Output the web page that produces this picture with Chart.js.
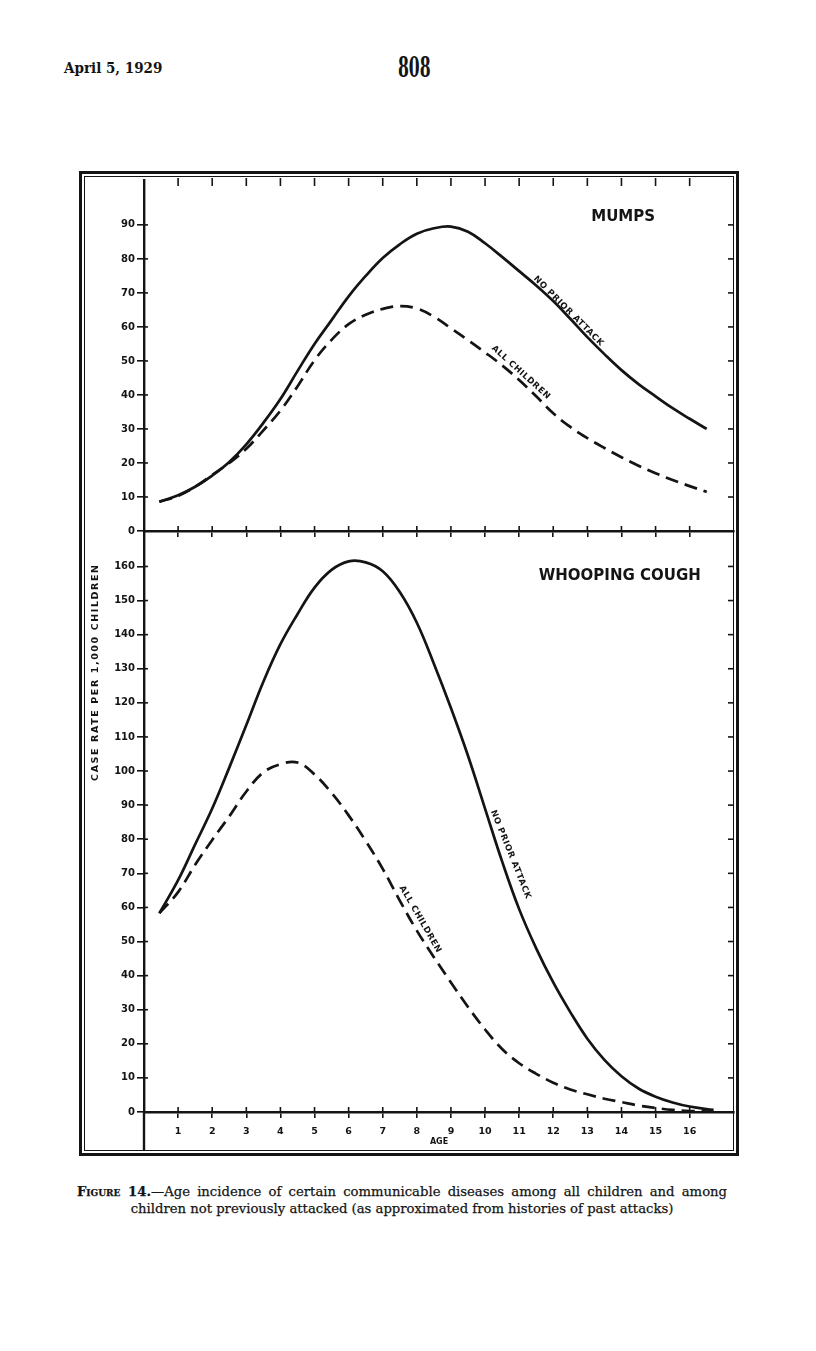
<!DOCTYPE html>
<html>
<head>
<meta charset="utf-8">
<title>Figure 14 — Age incidence</title>
<script src="https://cdn.jsdelivr.net/npm/chart.js@4.4.1/dist/chart.umd.min.js"></script>
<style>
  html, body { margin: 0; background: #fff; }
  #page { position: relative; width: 816px; height: 1351px; overflow: hidden; color: #141414; }
  .hdr { position: absolute; font-family: "DejaVu Serif Condensed", "DejaVu Serif", serif; font-weight: bold; white-space: nowrap; }
  #date { left: 64px; top: 59px; font-size: 15px; }
  #pgno { left: 398px; top: 51px; font-size: 28px; transform: scaleX(0.62); transform-origin: left top; }
  #frame { position: absolute; left: 79px; top: 171px; width: 654px; height: 979px; border: 3px solid #141414; }
  #frame::after { content: ""; position: absolute; left: 2px; top: 2px; right: 2px; bottom: 2px; border: 1.5px solid #141414; }
  canvas { position: absolute; z-index: 2; }
  #mumps { left: 80px; top: 172px; }
  #whoop { left: 80px; top: 520px; }
  #caption { position: absolute; left: 77px; top: 1183px; width: 650px; font-family: "DejaVu Serif", serif;
    font-size: 13.2px; line-height: 17px; -webkit-text-stroke: 0.25px #141414; }
  #caption .l1 { text-align: justify; text-align-last: justify; }
  #caption .l2 { text-align: center; }
  #caption b { font-variant: small-caps; }
</style>
</head>
<body>
<div id="page">
  <div id="date" class="hdr">April 5, 1929</div>
  <div id="pgno" class="hdr">808</div>
  <div id="frame"></div>
  <canvas id="mumps" width="658" height="372"></canvas>
  <canvas id="whoop" width="658" height="635"></canvas>
  <div id="caption">
    <div class="l1"><b>Figure 14.</b>—Age incidence of certain communicable diseases among all children and among</div>
    <div class="l2">children not previously attacked (as approximated from histories of past attacks)</div>
  </div>
</div>
<script>
// ── Data (rate per 1,000 children) ──
const ageTicks = [1, 2, 3, 4, 5, 6, 7, 8, 9, 10, 11, 12, 13, 14, 15, 16];
const mumpsTicks = [0, 10, 20, 30, 40, 50, 60, 70, 80, 90];
const whoopTicks = [0, 10, 20, 30, 40, 50, 60, 70, 80, 90, 100, 110, 120, 130, 140, 150, 160];

const mumpsAges = [0.45, 1, 1.5, 2, 2.5, 3, 3.5, 4, 4.5, 5, 5.5, 6, 6.5, 7, 7.5, 8, 8.5,
  9, 9.5, 10, 10.5, 11, 11.5, 12, 12.5, 13, 13.5, 14, 14.5, 15, 15.5, 16, 16.5];
const mumpsNoPrior = [8.6, 10.5, 13, 16.3, 20.3, 25.5, 31.8, 38.8, 47, 55, 62, 69, 75,
  80.3, 84.3, 87.4, 89, 89.5, 88, 84.6, 80.6, 76.4, 72.2, 67.6, 62.4, 57, 52, 47.3, 43.2,
  39.6, 36.1, 33, 30];
const mumpsAll = [8.6, 10.3, 13, 16.5, 20, 24.2, 29.6, 35.4, 42.5, 50.2, 56.2, 60.8, 63.6,
  65.3, 66.1, 65.4, 63, 59.6, 56.1, 52.5, 48.7, 44.4, 39.6, 34.6, 30.6, 27.3, 24.4, 21.7, 19.2,
  17, 15, 13.2, 11.5];

const whoopAges = [0.45, 1, 1.5, 2, 2.5, 3, 3.5, 4, 4.5, 5, 5.5, 6, 6.5, 7, 7.5, 8, 8.5,
  9, 9.5, 10, 10.5, 11, 11.5, 12, 12.5, 13, 13.5, 14, 14.5, 15, 15.5, 16, 16.7];
const whoopNoPrior = [58.3, 68, 78.5, 89, 101, 113.5, 126.2, 137.2, 146, 153.8, 159,
  161.5, 161.2, 158.6, 152.5, 143.5, 131.5, 118.5, 104.5, 89, 73.5, 59.5, 48, 38, 29.3, 21.5,
  15.3, 10.5, 6.9, 4.5, 2.8, 1.6, 0.6];
const whoopAll = [58.3, 64.5, 72.5, 79.8, 86.7, 94, 99.6, 102, 102.5, 99, 93.6, 87,
  79.5, 71.3, 62, 53.2, 45.4, 38, 30.8, 24.2, 18.5, 14.3, 11.2, 8.6, 6.6, 5.2, 3.9, 2.9,
  1.9, 1.2, 0.6, 0.3, 0.1];

const ink = '#141414';
const sans = 'DejaVu Sans';

const pts = (ages, vals) => ages.map((a, i) => ({ x: a, y: vals[i] }));

function curve(data, dashed) {
  return {
    data, borderColor: ink, borderWidth: 2.7, pointRadius: 0, fill: false,
    tension: 0.4, borderDash: dashed ? [13, 7] : []
  };
}

function line(ctx, x1, y1, x2, y2) {
  ctx.beginPath(); ctx.moveTo(x1, y1); ctx.lineTo(x2, y2); ctx.stroke();
}

// ── Decorations: crossing ticks, frame ticks, titles and curve labels ──
function makeDecor(cfg) {
  return {
    id: 'decor',
    afterDraw(chart) {
      const { ctx, chartArea: a, scales: { x, y } } = chart;
      ctx.save();
      ctx.strokeStyle = ink; ctx.fillStyle = ink; ctx.lineWidth = 1.6;
      y.ticks.forEach(t => {
        const py = y.getPixelForValue(t.value);
        if (t.value > 0) {
          line(ctx, a.left, py, a.left + 4, py);
          line(ctx, a.right, py, a.right - 6, py);
        }
      });
      x.ticks.forEach(t => {
        const px = x.getPixelForValue(t.value);
        line(ctx, px, a.bottom, px, a.bottom - 5);
        if (cfg.topTicks) line(ctx, px, a.top - 2, px, a.top + 6);
      });
      if (cfg.axisTail) {
        ctx.lineWidth = 2.4;
        line(ctx, a.left, a.bottom, a.left, chart.height - 5);
      }

      ctx.font = `bold 15px "${sans}"`;
      ctx.textAlign = 'center'; ctx.textBaseline = 'middle';
      ctx.fillText(cfg.title.text, x.getPixelForValue(cfg.title.age), y.getPixelForValue(cfg.title.value));

      ctx.font = `bold 8.5px "${sans}"`;
      ctx.letterSpacing = '0.6px';
      cfg.labels.forEach(l => {
        ctx.save();
        ctx.translate(x.getPixelForValue(l.age), y.getPixelForValue(l.value));
        ctx.rotate(l.angle * Math.PI / 180);
        ctx.fillText(l.text, 0, 0);
        ctx.restore();
      });

      if (cfg.yTitle) {
        ctx.save();
        ctx.font = `bold 9.5px "${sans}"`;
        ctx.letterSpacing = '1.6px';
        ctx.translate(16, y.getPixelForValue(cfg.yTitle.value));
        ctx.rotate(-Math.PI / 2);
        ctx.fillText(cfg.yTitle.text, 0, 0);
        ctx.restore();
      }
      ctx.restore();
    }
  };
}

function axes(yMax, yTicks, xHeight, showAge) {
  return {
    x: {
      type: 'linear', min: 0, max: 17.3,
      afterBuildTicks: s => { s.ticks = ageTicks.map(v => ({ value: v })); },
      afterFit: s => { s.height = xHeight; },
      grid: { drawOnChartArea: false, color: ink, lineWidth: 1.6, tickLength: 6 },
      border: { color: ink, width: 2.4 },
      ticks: { display: showAge, color: ink, padding: 8, maxRotation: 0,
        font: { family: sans, weight: 'bold', size: 9.5 } },
      title: { display: showAge, text: 'AGE', color: ink, padding: { top: 0, bottom: 8 },
        font: { family: sans, weight: 'bold', size: 8 } }
    },
    y: {
      min: 0, max: yMax,
      afterBuildTicks: s => { s.ticks = yTicks.map(v => ({ value: v })); },
      afterFit: s => { s.width = 64; },
      grid: { drawOnChartArea: false, color: ink, lineWidth: 1.6, tickLength: 7 },
      border: { color: ink, width: 2.4 },
      ticks: { color: ink, padding: 2, font: { family: sans, weight: 'bold', size: 10 } }
    }
  };
}

const baseOpts = {
  responsive: false, animation: false,
  plugins: { legend: { display: false }, tooltip: { enabled: false } }
};

// Mumps panel
new Chart(document.getElementById('mumps'), {
  type: 'line',
  data: { datasets: [curve(pts(mumpsAges, mumpsNoPrior), false), curve(pts(mumpsAges, mumpsAll), true)] },
  options: { ...baseOpts, layout: { padding: { top: 6, right: 4, bottom: 0, left: 0 } },
    scales: axes(103.2, mumpsTicks, 13, false) },
  plugins: [makeDecor({
    topTicks: true,
    title: { text: 'MUMPS', age: 14.05, value: 92.2 },
    labels: [
      { text: 'NO PRIOR ATTACK', age: 12.45, value: 64.6, angle: 45 },
      { text: 'ALL CHILDREN', age: 11.05, value: 46.6, angle: 42 }
    ]
  })]
});

// Whooping cough panel
new Chart(document.getElementById('whoop'), {
  type: 'line',
  data: { datasets: [curve(pts(whoopAges, whoopNoPrior), false), curve(pts(whoopAges, whoopAll), true)] },
  options: { ...baseOpts, layout: { padding: { top: 11, right: 4, bottom: 0, left: 0 } },
    scales: axes(170.4, whoopTicks, 43, true) },
  plugins: [makeDecor({
    axisTail: true,
    title: { text: 'WHOOPING COUGH', age: 13.95, value: 157.2 },
    yTitle: { text: 'CASE RATE PER 1,000 CHILDREN', value: 129 },
    labels: [
      { text: 'NO PRIOR ATTACK', age: 10.75, value: 75.5, angle: 68 },
      { text: 'ALL CHILDREN', age: 8.1, value: 56.5, angle: 60 }
    ]
  })]
});
</script>
</body>
</html>
